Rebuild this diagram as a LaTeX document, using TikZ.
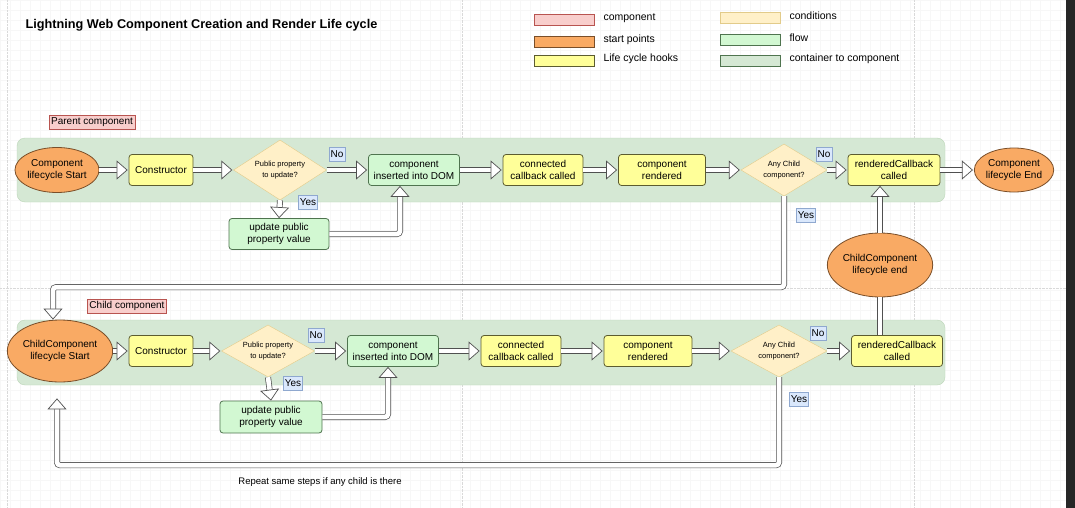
\documentclass[tikz,border=0pt]{standalone}
\usepackage{fontspec}
\setmainfont{Liberation Sans}
\usetikzlibrary{shapes, shapes.geometric, arrows.meta, positioning}

\definecolor{pinkfill}{HTML}{F8CECC}
\definecolor{pinkline}{HTML}{B85450}
\definecolor{startfill}{HTML}{F9AA64}
\definecolor{startline}{HTML}{7A4E28}
\definecolor{hookfill}{HTML}{FFFF99}
\definecolor{hookline}{HTML}{5C5C30}
\definecolor{condfill}{HTML}{FFF0C8}
\definecolor{condline}{HTML}{E2CB8A}
\definecolor{flowfill}{HTML}{D2F8D2}
\definecolor{flowline}{HTML}{4F744F}
\definecolor{holdfill}{HTML}{D5E8D4}
\definecolor{holdline}{HTML}{BCD6B8}
\definecolor{labfill}{HTML}{DAE8FC}
\definecolor{labline}{HTML}{8FA8CF}
\definecolor{arrline}{HTML}{505050}

% hollow block arrow: double shaft, then a white-filled open head
\newcommand\hollowarrow[2][0pt]{%
	\draw[shaft, shorten >=#1+10pt] #2;
	\draw[white, line width=0.5pt, rounded corners=3pt, shorten >=#1, -{Triangle[color=arrline, fill=white, line width=0.7pt, length=11pt, width=19pt]}] #2;
}

\begin{document}
\begin{tikzpicture}[x=1pt,y=-1pt,
		box/.style={draw, rounded corners=3pt, minimum height=31pt, inner sep=1pt, align=center, line width=0.8pt, font=\fontsize{10}{12}\selectfont},
		hook/.style={box, draw=hookline, fill=hookfill},
		flow/.style={box, draw=flowline, fill=flowfill},
		startpt/.style={ellipse, draw=startline, fill=startfill, line width=0.8pt, inner sep=0pt, align=center, font=\fontsize{10}{12}\selectfont},
		cond/.style={diamond, draw=condline, fill=condfill, aspect=1.7, inner sep=0pt, align=center, font=\fontsize{7.5}{11}\selectfont},
		yesno/.style={draw=labline, fill=labfill, inner sep=1.5pt, minimum height=14pt, font=\fontsize{10}{12}\selectfont},
		tag/.style={draw=pinkline, fill=pinkfill, inner sep=2pt, minimum height=14pt, font=\fontsize{10}{12}\selectfont},
		holder/.style={draw=holdline, fill=holdfill, rounded corners=8pt},
		shaft/.style={draw=arrline, line width=0.7pt, double=white, double distance=4.6pt, rounded corners=3pt}]
		\useasboundingbox (0,0) rectangle (1075,508);
		\fill[white] (0,0) rectangle (1075,508);
		% faint grid and page lines
		\foreach \x in {0,10,...,1060}{
			\draw[black!3, line width=0.4pt] (\x,0) -- (\x,508);
		}
		\foreach \y in {0,10,...,500}{
			\draw[black!3, line width=0.4pt] (0,\y) -- (1066,\y);
		}
		\draw[black!15, densely dotted] (7,0) -- (7,508);
		\draw[black!15, densely dotted] (462,0) -- (462,508);
		\draw[black!15, densely dotted] (914,0) -- (914,508);
		\draw[black!15, densely dotted] (0,288) -- (1066,288);
		\fill[black!85] (1066,0) rectangle (1075,508);

		\node[anchor=west, font=\bfseries\fontsize{12.7}{14}\selectfont] (title) at (22,25) {Lightning Web Component Creation and Render Life cycle};

		% legend
		\foreach \c/\l/\t/\x/\y/\n in {pinkfill/pinkline/component/534/20/la, startfill/startline/start points/534/42/lb, hookfill/hookline/Life cycle hooks/534/61/lc, condfill/condline/conditions/720/18/ld, flowfill/flowline/flow/720/40/le, holdfill/flowline/container to component/720/61/lf}{
			\node[draw=\l, fill=\c, minimum width=60pt, minimum height=11pt, inner sep=0pt] (\n) at (\x+30,\y) {};
			\node[anchor=west, font=\fontsize{10.5}{12}\selectfont] (\n t) at (\x+66,\y-2) {\t};
		}

		% containers
		\filldraw[holder] (17,138) rectangle (945,202);
		\filldraw[holder] (17,320) rectangle (945,385);
		\node[tag] (ptag) at (92,122) {Parent component};
		\node[tag] (ctag) at (127,306) {Child component};

		% parent component
		\node[startpt, minimum width=76pt, minimum height=45pt] (pstart) at (57,170) {Component\\lifecycle Start};
		\node[hook, minimum width=64pt] (pctor) at (161,170) {Constructor};
		\node[cond, minimum width=93pt, minimum height=60pt] (pcond) at (280,170) {Public property\\to update?};
		\node[flow, minimum width=91pt] (pdom) at (414,170) {component\\inserted into DOM};
		\node[hook, minimum width=80pt] (pconn) at (543,170) {connected\\callback called};
		\node[hook, minimum width=87pt] (prend) at (662,170) {component\\rendered};
		\node[cond, minimum width=86pt, minimum height=52pt] (pchild) at (784,170) {Any Child\\component?};
		\node[hook, minimum width=92pt] (prcb) at (894,170) {renderedCallback\\called};
		\node[startpt, minimum width=76pt, minimum height=44pt] (pend) at (1014,170) {Component\\lifecycle End};
		\node[flow, minimum width=100pt] (pupd) at (279,234) {update public\\property value};
		\node[yesno] (pno) at (337,154) {No};
		\node[yesno] (pyes) at (308,202) {Yes};
		\node[yesno] (pno2) at (824,154) {No};
		\node[yesno] (pyes2) at (806,215) {Yes};
		\node[startpt, minimum width=86pt, minimum height=64pt] (cend) at (880,265) {ChildComponent\\lifecycle end};

		% child component
		\node[startpt, minimum width=86pt, minimum height=62pt] (cstart) at (60,351) {ChildComponent\\lifecycle Start};
		\node[hook, minimum width=64pt] (cctor) at (161,351) {Constructor};
		\node[cond, minimum width=93pt, minimum height=52pt] (ccond) at (268,351) {Public property\\to update?};
		\node[flow, minimum width=91pt] (cdom) at (393,351) {component\\inserted into DOM};
		\node[hook, minimum width=80pt] (cconn) at (521,351) {connected\\callback called};
		\node[hook, minimum width=88pt] (crend) at (648,351) {component\\rendered};
		\node[cond, minimum width=96pt, minimum height=52pt] (cchild) at (779,351) {Any Child\\component?};
		\node[hook, minimum width=91pt] (crcb) at (897,351) {renderedCallback\\called};
		\node[flow, minimum width=102pt, minimum height=32pt] (cupd) at (271,417) {update public\\property value};
		\node[yesno] (cno) at (316,335) {No};
		\node[yesno] (cyes) at (293,383) {Yes};
		\node[yesno] (cno2) at (818,333) {No};
		\node[yesno] (cyes2) at (799,399) {Yes};
		\node[font=\fontsize{9.5}{11}\selectfont] (repeat) at (320,482) {Repeat same steps if any child is there};

		% flow arrows
		\foreach \a/\b in {pstart/pctor, pctor/pcond, pcond/pdom, pdom/pconn, pconn/prend, prend/pchild, pchild/prcb, prcb/pend, cstart/cctor, cctor/ccond, ccond/cdom, cdom/cconn, cconn/crend, crend/cchild, cchild/crcb}{
			\hollowarrow[1pt]{(\a.east) -- (\b.west)}
		}
		\hollowarrow{(pcond.south) -- (pupd.north)}
		\hollowarrow{(ccond.south) -- (cupd.north)}
		\hollowarrow{(pupd.east) -| ([xshift=-14pt]pdom.south)}
		\hollowarrow{(cupd.east) -| ([xshift=-5pt]cdom.south)}
		\hollowarrow{(cend.north) -- (cend.north |- prcb.south)}
		\draw[shaft] (cend.south) -- (cend.south |- crcb.north);
		\hollowarrow{(pchild.south) -- ++(0,91) -| ([xshift=-7pt]cstart.north)}
		\hollowarrow[16pt]{(cchild.south) -- ++(0,88) -| ([xshift=-3pt]cstart.south)}
	\end{tikzpicture}
\end{document}
